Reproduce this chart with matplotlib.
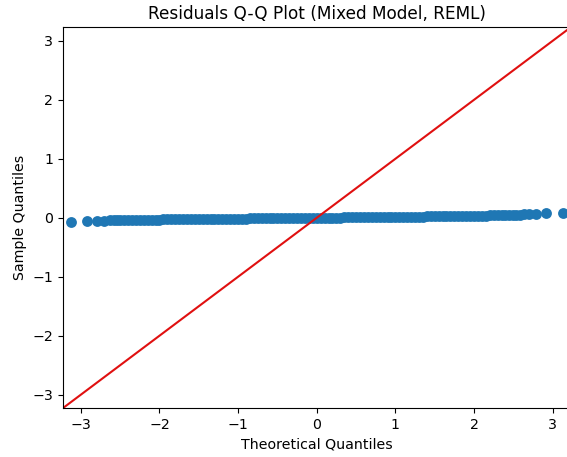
import matplotlib
matplotlib.use('Agg')
import matplotlib.pyplot as plt
import numpy as np

# Theoretical quantiles (x) and residual sample quantiles (y)
theo_left = [-3.13, -2.92, -2.79, -2.70, -2.63, -2.58, -2.54]
samp_left = [-0.065, -0.055, -0.050, -0.047, -0.045, -0.043, -0.041]

theo_mid = [-2.50, -2.45, -2.40, -2.35, -2.30, -2.25, -2.20, -2.15, -2.10, -2.05,
            -2.00, -1.95, -1.90, -1.85, -1.80, -1.75, -1.70, -1.65, -1.60, -1.55,
            -1.50, -1.45, -1.40, -1.35, -1.30, -1.25, -1.20, -1.15, -1.10, -1.05,
            -1.00, -0.95, -0.90, -0.85, -0.80, -0.75, -0.70, -0.65, -0.60, -0.55,
            -0.50, -0.45, -0.40, -0.35, -0.30, -0.25, -0.20, -0.15, -0.10, -0.05,
            0.00, 0.05, 0.10, 0.15, 0.20, 0.25, 0.30, 0.35, 0.40, 0.45,
            0.50, 0.55, 0.60, 0.65, 0.70, 0.75, 0.80, 0.85, 0.90, 0.95,
            1.00, 1.05, 1.10, 1.15, 1.20, 1.25, 1.30, 1.35, 1.40, 1.45,
            1.50, 1.55, 1.60, 1.65, 1.70, 1.75, 1.80, 1.85, 1.90, 1.95,
            2.00, 2.05, 2.10, 2.15, 2.20, 2.25, 2.30, 2.35, 2.40, 2.45, 2.50]
samp_mid = [-0.040, -0.039, -0.038, -0.037, -0.036, -0.035, -0.034, -0.033, -0.032, -0.031,
            -0.030, -0.029, -0.028, -0.028, -0.027, -0.026, -0.025, -0.025, -0.024, -0.023,
            -0.022, -0.021, -0.020, -0.020, -0.019, -0.018, -0.017, -0.017, -0.016, -0.015,
            -0.014, -0.014, -0.013, -0.012, -0.011, -0.011, -0.010, -0.009, -0.008, -0.008,
            -0.007, -0.006, -0.005, -0.005, -0.004, -0.004, -0.003, -0.002, -0.001, -0.001,
            0.000, 0.001, 0.001, 0.002, 0.003, 0.003, 0.004, 0.005, 0.006, 0.006,
            0.007, 0.008, 0.009, 0.009, 0.010, 0.011, 0.012, 0.012, 0.013, 0.014,
            0.015, 0.016, 0.017, 0.017, 0.018, 0.019, 0.020, 0.021, 0.022, 0.023,
            0.024, 0.025, 0.026, 0.027, 0.028, 0.029, 0.030, 0.031, 0.032, 0.033,
            0.034, 0.035, 0.037, 0.038, 0.040, 0.041, 0.043, 0.044, 0.046, 0.047, 0.049]

theo_right = [2.54, 2.58, 2.63, 2.70, 2.79, 2.92, 3.13]
samp_right = [0.050, 0.052, 0.056, 0.060, 0.066, 0.075, 0.088]

lim = (-3.23, 3.23)
ticks = [-3, -2, -1, 0, 1, 2, 3]

theo = np.array(theo_left + theo_mid + theo_right)
samp = np.array(samp_left + samp_mid + samp_right)

fig = plt.figure(figsize=(5.67, 4.57), dpi=100)
ax = fig.add_axes([0.1106, 0.1066, 0.896, 0.8337])

ax.plot(theo, samp, 'o', color='#1f77b4', markersize=7.8, markeredgewidth=0)
# 45 degree reference line
ax.plot(lim, lim, '-', color='#e01010', linewidth=1.5)

ax.set_xlim(lim)
ax.set_ylim(lim)
ax.set_xticks(ticks)
ax.set_yticks(ticks)
ax.tick_params(labelsize=10.2)
ax.set_xlabel('Theoretical Quantiles', fontsize=10.2)
ax.set_ylabel('Sample Quantiles', fontsize=10.2)
ax.set_title('Residuals Q-Q Plot (Mixed Model, REML)', fontsize=12.2)

fig.savefig('out.png', dpi=100)
